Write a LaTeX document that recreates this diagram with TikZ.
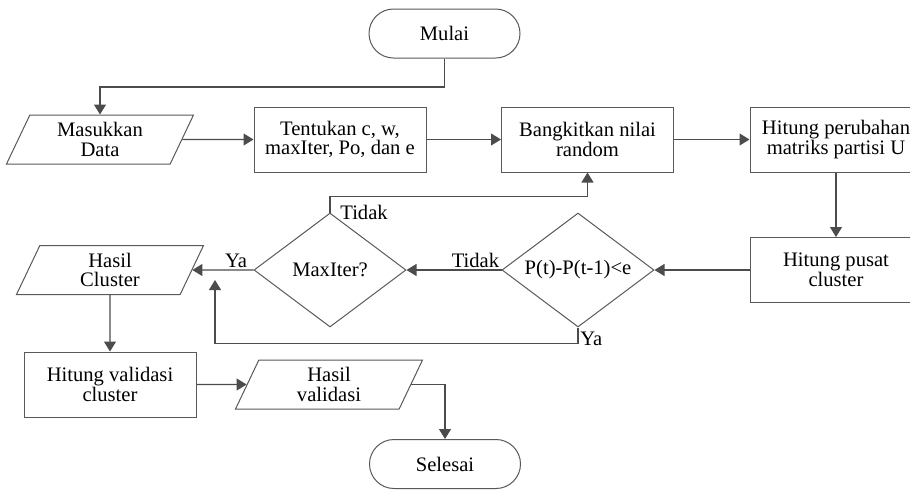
\documentclass[tikz,border=0pt]{standalone}
\usepackage{fontspec}
\setmainfont{Liberation Serif}
\usetikzlibrary{shapes.geometric,shapes.misc,arrows.meta}

\tikzset{
  base/.style={draw=black!65, line width=0.5pt, fill=white, align=center,
    font=\fontsize{10.3}{9.8}\selectfont, inner sep=1pt},
  terminal/.style={base, rounded rectangle, minimum width=77.5pt, minimum height=24.5pt},
  process/.style={base, rectangle, minimum width=86pt, minimum height=32.5pt},
  io/.style={base, trapezium, trapezium left angle=58.5, trapezium right angle=121.5,
    trapezium stretches body, minimum width=93.5pt, minimum height=24.5pt},
  decision/.style={base, diamond, aspect=1.33, minimum width=76pt, minimum height=57pt, inner sep=0pt},
  flow/.style={draw=black!70, line width=0.55pt, -{Triangle[length=5pt,width=6pt]}},
  lbl/.style={font=\fontsize{10.3}{9.8}\selectfont, inner sep=1pt}
}

\begin{document}
\begin{tikzpicture}[x=0.5pt, y=-0.5pt]
  % Canvas: one unit is one pixel of the layout
  \def\rowtop{139.5}  % Upper row of boxes
  \def\rowmid{270}    % Decision row
  \def\rowlow{384.5}  % Lower row
  \useasboundingbox (0,0) rectangle (910,489);
  \clip (0,0) rectangle (910,489);

  % Start and input
  \node[terminal] (mulai) at (444.5,33.5) {Mulai};
  \node[io] (masukkan) at (100,\rowtop) {Masukkan\\Data};
  \node[process] (tentukan) at (340,\rowtop) {Tentukan c, w,\\maxIter, Po, dan e};
  \node[process] (bangkit) at (587.5,\rowtop) {Bangkitkan nilai\\random};
  \node[process] (perubahan) at (836,\rowtop) {Hitung perubahan\\matriks partisi U};

  % Iteration checks
  \node[process] (pusat) at (836,\rowmid) {Hitung pusat\\cluster};
  \node[decision] (cek) at (578,\rowmid) {P(t)-P(t-1)<e};
  \node[decision] (maxiter) at (330,\rowmid) {MaxIter?};
  \node[io] (hasilc) at (110,\rowmid) {Hasil\\Cluster};

  % Validation and end
  \node[process] (validasi) at (110,\rowlow) {Hitung validasi\\cluster};
  \node[io] (hasilv) at (329,\rowlow) {Hasil\\validasi};
  \node[terminal] (selesai) at (445,464) {Selesai};
  \coordinate (gabung) at (215,280);

  % Drawing the connectors
  \draw[flow] (mulai.south) -- ++(0,28.5) -| (masukkan.north);
  \draw[flow] (masukkan.east) -- (tentukan.west);
  \draw[flow] (tentukan.east) -- (bangkit.west);
  \draw[flow] (bangkit.east) -- (perubahan.west);
  \draw[flow] (perubahan.south) -- (pusat.north);
  \draw[flow] (pusat.west) -- (cek.east);
  \draw[flow] (cek.west) -- (maxiter.east);
  \draw[flow] (maxiter.north) -- ++(0,-16) -| (bangkit.south);
  \draw[flow] (maxiter.west) -- (hasilc.east);
  \draw[flow] (cek.south) -- ++(0,16) -| (gabung);
  \draw[flow] (hasilc.south) -- (validasi.north);
  \draw[flow] (validasi.east) -- (hasilv.west);
  \draw[flow] (hasilv.east) -| (selesai.north);

  % Branch labels
  \node[lbl, anchor=base east] (tidaka) at ([yshift=1.5pt]cek.west) {Tidak};
  \node[lbl, anchor=west] (tidakb) at ([xshift=4pt]maxiter.north) {Tidak};
  \node[lbl, anchor=base east] (yaa) at ([xshift=-2pt,yshift=1.5pt]maxiter.west) {Ya};
  \node[lbl, anchor=base west] (yab) at ([yshift=-9pt]cek.south) {Ya};
\end{tikzpicture}
\end{document}
